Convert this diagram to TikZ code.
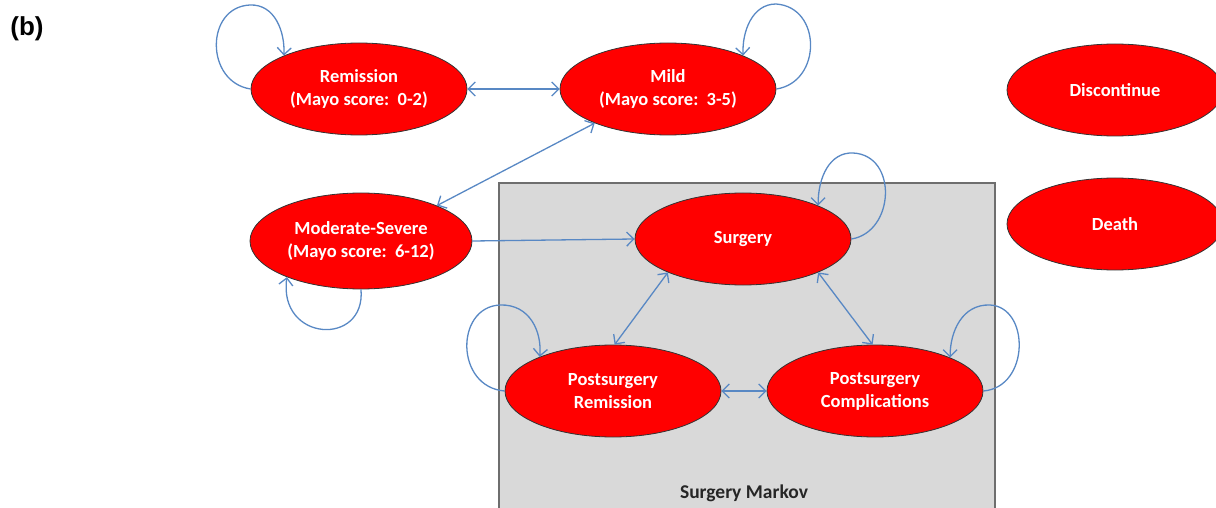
\documentclass[tikz,border=0pt]{standalone}
\usepackage{fontspec}
\setmainfont{Carlito}
\newfontfamily\arialfont{Liberation Sans}
\usetikzlibrary{shapes.geometric,arrows.meta}
\definecolor{arrblue}{RGB}{88,136,196}
\definecolor{boxgray}{RGB}{217,217,217}
\definecolor{boxedge}{RGB}{110,110,110}
\begin{document}
\begin{tikzpicture}[x=1pt,y=1pt,
  state/.style={ellipse,draw=black!80,line width=0.8pt,fill=red,text=white,
    minimum width=216pt,minimum height=92pt,inner sep=0pt,align=center,
    font=\fontsize{18.5}{23}\selectfont\bfseries},
  arr/.style={draw=arrblue,line width=1.3pt,
    arrows={-Straight Barb[length=7pt,width=14pt]}},
  darr/.style={draw=arrblue,line width=1.3pt,
    arrows={Straight Barb[length=7pt,width=14pt]-Straight Barb[length=7pt,width=14pt]}}]
\useasboundingbox (0,0) rectangle (1216,507);
\clip (0,0) rectangle (1216,507);
% surgery Markov box
\node[draw=boxedge,fill=boxgray,line width=1.8pt,minimum width=496pt,minimum height=335pt,inner sep=0pt,anchor=north west] (box) at (498,325) {};
\node[font=\fontsize{19.5}{22}\selectfont\bfseries,text=black!85] (boxlbl) at (744,14) {Surgery Markov};
% label
\node[font=\arialfont\fontsize{26}{28}\selectfont\bfseries] (lbl) at (27,478) {(b)};
% states
\node[state] (rem) at (359,418) {Remission\\(Mayo score:\ \ 0-2)};
\node[state] (mild) at (668,418) {Mild\\(Mayo score:\ \ 3-5)};
\node[state] (disc) at (1115,417) {Discontinue};
\node[state] (death) at (1115,283) {Death};
\node[state,minimum width=222pt,minimum height=96pt] (mod) at (361,266) {Moderate-Severe\\(Mayo score:\ \ 6-12)};
\node[state] (surg) at (743,268) {Surgery};
\node[state] (psr) at (613,116) {Postsurgery\\Remission};
\node[state] (psc) at (875,116) {Postsurgery\\Complications};
% connectors
\draw[darr] (rem.east) -- (mild.west);
\draw[darr] (mild.205) -- (mod.25);
\draw[arr] (mod.east) -- (surg.west);
\draw[darr] (surg.204) -- (psr.88);
\draw[darr] (surg.336) -- (psc.93);
\draw[darr] (psr.east) -- (psc.west);
% self loops
\draw[arr] (rem.west) .. controls (205,425) and (205,500) .. (250,502) .. controls (275,503) and (285,475) .. (rem.156);
\draw[arr] (mild.east) .. controls (822,425) and (822,500) .. (776,503) .. controls (752,503) and (742,475) .. (mild.24);
\draw[arr] (mod.south) .. controls (366,160) and (278,165) .. (mod.206);
\draw[arr] (surg.east) .. controls (895,275) and (898,352) .. (853,354) .. controls (830,355) and (818,330) .. (surg.24);
\draw[arr] (psr.west) .. controls (455,120) and (455,200) .. (500,202) .. controls (530,203) and (542,175) .. (psr.155);
\draw[arr] (psc.east) .. controls (1030,120) and (1030,200) .. (990,202) .. controls (962,203) and (950,175) .. (psc.24);
\end{tikzpicture}
\end{document}
